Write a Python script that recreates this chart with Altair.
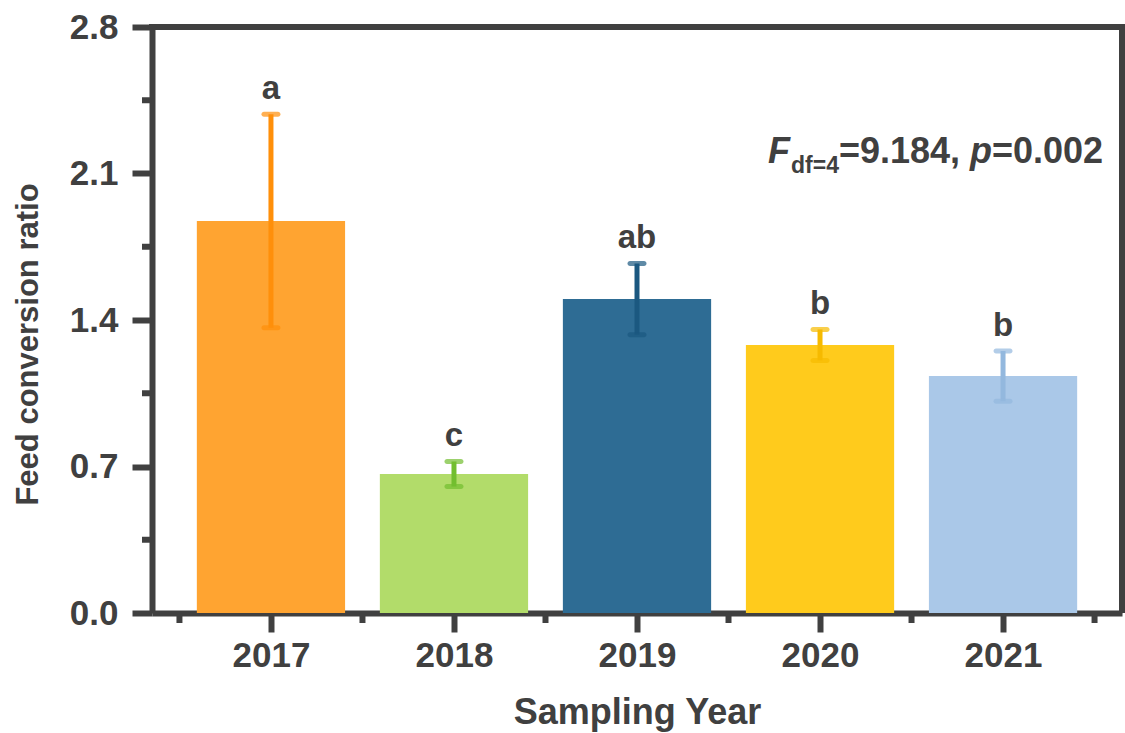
import altair as alt
import pandas as pd

# Feed conversion ratio by sampling year (mean ± SD) with significance letters
years = [2017, 2018, 2019, 2020, 2021]
means = [1.873, 0.664, 1.500, 1.281, 1.132]
sds = [0.51, 0.06, 0.17, 0.074, 0.12]
letters = ["a", "c", "ab", "b", "b"]
bar_colors = ["#FFA431", "#B2DC6A", "#2E6C94", "#FFCB1C", "#AAC8E8"]
err_colors = ["#FF8F0A", "#72BE2F", "#1B5880", "#F6BA00", "#93B8DE"]

y_major = [0.0, 0.7, 1.4, 2.1, 2.8]
y_minor = [0.35, 1.05, 1.75, 2.45]
x_minor = [2016.5, 2017.5, 2018.5, 2019.5, 2020.5, 2021.5]

INK = "#404040"
FONT = "Liberation Sans"
W, H = 970, 586

df = pd.DataFrame({
    "year": years, "mean": means, "sd": sds, "letter": letters,
    "bar": bar_colors, "err": err_colors,
})
df["lo"] = df["mean"] - df["sd"]
df["hi"] = df["mean"] + df["sd"]
df["x0"] = df["year"] - 0.405
df["x1"] = df["year"] + 0.405

xs = alt.Scale(domain=[2016.35, 2021.65], nice=False, zero=False)
ys = alt.Scale(domain=[0, 2.8], nice=False)

base = alt.Chart(df)

bars = base.mark_bar().encode(
    x=alt.X("x0:Q", scale=xs, title="Sampling Year",
            axis=alt.Axis(values=years, format="d", grid=False,
                          labelFont=FONT, labelFontSize=35, labelFontWeight="bold",
                          labelColor=INK, labelPadding=6,
                          titleFont=FONT, titleFontSize=36, titleFontWeight="bold",
                          titleColor=INK, titleX=485, titleY=99, titleBaseline="middle",
                          domainColor=INK, domainWidth=6, tickColor=INK, tickWidth=6,
                          tickSize=19)),
    x2="x1:Q",
    y=alt.Y("mean:Q", scale=ys, title="Feed conversion ratio",
            axis=alt.Axis(values=y_major, format=".1f", grid=False,
                          labelFont=FONT, labelFontSize=35, labelFontWeight="bold",
                          labelColor=INK, labelPadding=14,
                          titleFont=FONT, titleFontSize=31, titleFontWeight="bold",
                          titleColor=INK, titleX=-124, titleY=317,
                          titleAlign="center", titleBaseline="middle", titleAngle=270,
                          domainColor=INK, domainWidth=6, tickColor=INK, tickWidth=6,
                          tickSize=20)),
    y2=alt.datum(0),
    color=alt.Color("bar:N", scale=None),
)

stems = base.mark_rule(strokeWidth=5).encode(
    x=alt.X("year:Q", scale=xs),
    y=alt.Y("lo:Q", scale=ys),
    y2="hi:Q",
    color=alt.Color("err:N", scale=None),
)

caps_hi = base.mark_tick(orient="horizontal", size=19, thickness=5, cornerRadius=2.5).encode(
    x=alt.X("year:Q", scale=xs),
    y=alt.Y("hi:Q", scale=ys),
    color=alt.Color("err:N", scale=None),
)
caps_lo = base.mark_tick(orient="horizontal", size=19, thickness=5, cornerRadius=2.5).encode(
    x=alt.X("year:Q", scale=xs),
    y=alt.Y("lo:Q", scale=ys),
    color=alt.Color("err:N", scale=None),
)

labels = base.mark_text(font=FONT, fontSize=33, fontWeight="bold", color=INK,
                        baseline="bottom", dy=-8).encode(
    x=alt.X("year:Q", scale=xs),
    y=alt.Y("hi:Q", scale=ys),
    text="letter:N",
)

# minor ticks on both axes
ymin_df = pd.DataFrame({"v": y_minor})
xmin_df = pd.DataFrame({"v": x_minor})
y_minor_ticks = alt.Chart(ymin_df).mark_rule(color=INK, strokeWidth=6).encode(
    y=alt.Y("v:Q", scale=ys), x=alt.value(-10), x2=alt.value(0))
x_minor_ticks = alt.Chart(xmin_df).mark_rule(color=INK, strokeWidth=6).encode(
    x=alt.X("v:Q", scale=xs), y=alt.value(H), y2=alt.value(H + 10))

one = pd.DataFrame({"k": [0]})

# top and right frame lines
frame_top = alt.Chart(one).mark_rule(color=INK, strokeWidth=6).encode(
    x=alt.value(-3), x2=alt.value(W + 3), y=alt.value(0))
frame_right = alt.Chart(one).mark_rule(color=INK, strokeWidth=6).encode(
    x=alt.value(W), y=alt.value(-3), y2=alt.value(H))

# ANOVA annotation: F_df=4 = 9.184, p = 0.002
def piece(txt, px, py, size, style="normal"):
    return alt.Chart(one).mark_text(
        text=txt, font=FONT, fontSize=size, fontWeight="bold", fontStyle=style,
        color=INK, align="left", baseline="alphabetic",
    ).encode(x=alt.value(px), y=alt.value(py))

anno = (
    piece("F", 616, 136, 36, "italic")
    + piece("df=4", 639, 146, 23)
    + piece("=9.184, ", 687, 136, 36)
    + piece("p", 818, 136, 36, "italic")
    + piece("=0.002", 840, 136, 36)
)

chart = alt.layer(
    bars, stems, caps_hi, caps_lo, labels, y_minor_ticks, x_minor_ticks,
    frame_top, frame_right, anno
).properties(
    width=W, height=H,
    autosize=alt.AutoSizeParams(type="none"),
    padding={"left": 152, "top": 27, "right": 3, "bottom": 120},
).configure_view(
    stroke=None,
).configure(background="white")

chart.save("out.html", embed_options={"renderer": "svg", "actions": False})
